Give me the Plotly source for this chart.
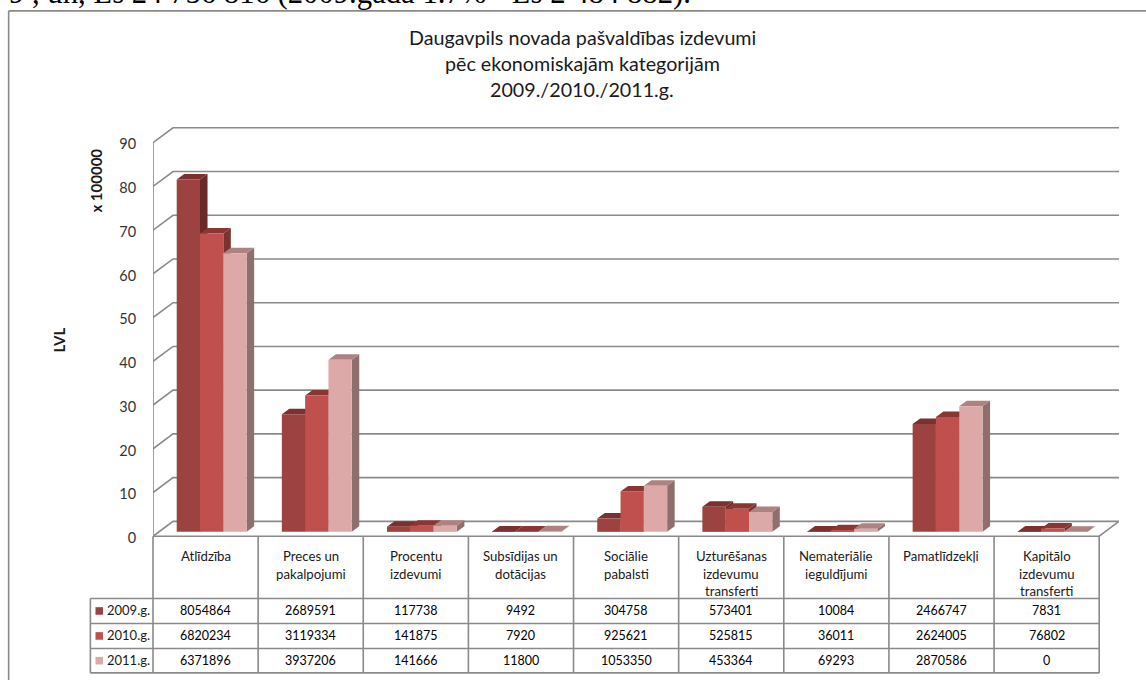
import plotly.graph_objects as go

# ---------- data ----------
categories = [
    ["Atlīdzība"],
    ["Preces un", "pakalpojumi"],
    ["Procentu", "izdevumi"],
    ["Subsīdijas un", "dotācijas"],
    ["Sociālie", "pabalsti"],
    ["Uzturēšanas", "izdevumu", "transferti"],
    ["Nemateriālie", "ieguldījumi"],
    ["Pamatlīdzekļi"],
    ["Kapitālo", "izdevumu", "transferti"],
]
series_names = ["2009.g.", "2010.g.", "2011.g."]
values_2009 = [8054864, 2689591, 117738, 9492, 304758, 573401, 10084, 2466747, 7831]
values_2010 = [6820234, 3119334, 141875, 7920, 925621, 525815, 36011, 2624005, 76802]
values_2011 = [6371896, 3937206, 141666, 11800, 1053350, 453364, 69293, 2870586, 0]
tick_values = [0, 10, 20, 30, 40, 50, 60, 70, 80, 90]
title_lines = ["Daugavpils novada pašvaldības izdevumi",
               "pēc ekonomiskajām kategorijām",
               "2009./2010./2011.g."]
top_text = "9 , un, Ls 24 756 816 (2009.gadā 1.7% - Ls 2 484 882)."

front_colors = ["#9C4240", "#C0504D", "#DDA9A8"]
side_colors = ["#692A29", "#7A3331", "#8F6F6D"]
top_colors = ["#7A3130", "#8A3634", "#AD8280"]
GRID = "#8A8A8A"
FONT = "Lato, Carlito, sans-serif"

# ---------- geometry (pixels → axis units) ----------
W, H = 1146, 680
LEFT, FLOOR_PX, RIGHT_PX, TOP_PX = 153.3, 536.7, 1119.0, 126.0
CAT_PX, UNIT_PX = 105.1, 4.378
TICK_SHIFT = 0.4  # labels sit slightly under their gridlines in the original
PLOT_BOTTOM = FLOOR_PX + TICK_SHIFT * UNIT_PX
x_max = (RIGHT_PX - LEFT) / CAT_PX
y_max = (FLOOR_PX - TOP_PX) / UNIT_PX
WALL_DX, WALL_DY = 20 / CAT_PX, 14.9 / UNIT_PX
BAR_W, BAR_GAP = 23.3 / CAT_PX, 23.7 / CAT_PX
DEPTH_X, DEPTH_Y = 7.5 / CAT_PX, 5.5 / UNIT_PX
BAR_BASE = 4.4 / UNIT_PX
n = len(categories)


def py(y):
    # y in page pixels from the top → paper coordinates of the plot area
    return (PLOT_BOTTOM - y) / (PLOT_BOTTOM - TOP_PX)


def pxp(x):
    return (x - LEFT) / (RIGHT_PX - LEFT)


fig = go.Figure()

# walls and gridlines
gx, gy = [], []
for v in tick_values:
    gx += [0, WALL_DX, x_max, None]
    gy += [v, v + WALL_DY, v + WALL_DY, None]
gx += [0, 0, None, 0, n, x_max]
gy += [0, tick_values[-1], None, 0, 0, WALL_DY]
fig.add_trace(go.Scatter(x=gx, y=gy, mode="lines", line=dict(color=GRID, width=1.6),
                         hoverinfo="skip", showlegend=False, cliponaxis=False, zorder=0))

# 3D bars
for s, vals in enumerate([values_2009, values_2010, values_2011]):
    v = [a / 100000 for a in vals]
    xl = [i + BAR_GAP + s * BAR_W for i in range(n)]
    sx, sy, tx, ty = [], [], [], []
    for x0, h in zip(xl, v):
        x1 = x0 + BAR_W
        b = BAR_BASE
        sx += [x1, x1 + DEPTH_X, x1 + DEPTH_X, x1, x1, None]
        sy += [b, b + DEPTH_Y, b + h + DEPTH_Y, b + h, b, None]
        tx += [x0, x1, x1 + DEPTH_X, x0 + DEPTH_X, x0, None]
        ty += [b + h, b + h, b + h + DEPTH_Y, b + h + DEPTH_Y, b + h, None]
    fig.add_trace(go.Scatter(x=sx, y=sy, mode="lines", fill="toself", fillcolor=side_colors[s],
                             line=dict(width=0, color=side_colors[s]), hoverinfo="skip",
                             showlegend=False, zorder=1 + 2 * s))
    fig.add_trace(go.Scatter(x=tx, y=ty, mode="lines", fill="toself", fillcolor=top_colors[s],
                             line=dict(width=0, color=top_colors[s]), hoverinfo="skip",
                             showlegend=False, zorder=1 + 2 * s))
    fig.add_trace(go.Bar(x=[a + BAR_W / 2 for a in xl], y=v, base=BAR_BASE, width=BAR_W,
                         name=series_names[s], marker=dict(color=front_colors[s], line=dict(width=0)),
                         showlegend=False, zorder=2 + 2 * s))

# ---------- text and table ----------
ann, shapes = [], []


def text(x, y, t, size=12, color="#1a1a1a", anchor="center", angle=0):
    ann.append(dict(x=pxp(x), y=py(y), xref="paper", yref="paper", text=t, showarrow=False,
                    xanchor=anchor, yanchor="middle", textangle=angle,
                    font=dict(family=FONT, size=size, color=color)))


def line(x0, y0, x1, y1, width=1.6):
    shapes.append(dict(type="line", xref="paper", yref="paper",
                       x0=pxp(x0), y0=py(y0), x1=pxp(x1), y1=py(y1),
                       line=dict(color=GRID, width=width), layer="above"))


ann.append(dict(x=pxp(7), y=py(11.5), xref="paper", yref="paper", text=top_text, showarrow=False,
                xanchor="left", yanchor="bottom",
                font=dict(family="Liberation Serif", size=30.7, color="#000000")))

for ty_, t in zip([37, 63.5, 89], title_lines):
    text(582.5, ty_, t, size=19.7)
text(59, 340, "<b>LVL</b>", size=15, angle=-90)
text(96, 181, "<b>x 100000</b>", size=15, angle=-90)

# chart frame
line(9, H + 2, 9, 10.7)
line(9, 10.7, W + 2, 10.7)

# data table
ROWS = [599, 624, 649, 673.5]
col_px = [LEFT + i * CAT_PX for i in range(n + 1)]
for i, x in enumerate(col_px):
    line(x, FLOOR_PX, x, ROWS[-1])
line(90.7, ROWS[0], 90.7, ROWS[-1])
for y in ROWS:
    line(90.7, y, col_px[-1], y)

for i, lines in enumerate(categories):
    cx = LEFT + (i + 0.5) * CAT_PX
    for k, t in enumerate(lines):
        text(cx, 556.7 + k * 17.4, t, size=13.2)
    for r, vals in enumerate([values_2009, values_2010, values_2011]):
        text(cx, (ROWS[r] + ROWS[r + 1]) / 2, str(vals[i]), size=12.5, color="#000000")

for r, name in enumerate(series_names):
    yc = (ROWS[r] + ROWS[r + 1]) / 2
    shapes.append(dict(type="rect", xref="paper", yref="paper",
                       x0=pxp(95.8), x1=pxp(103.3), y0=py(yc - 3.8), y1=py(yc + 3.8),
                       fillcolor=front_colors[r], line=dict(width=0), layer="above"))
    text(105, yc - 0.5, name, size=13, anchor="left")

fig.update_layout(
    width=W, height=H, autosize=False,
    margin=dict(l=LEFT, r=W - RIGHT_PX, t=TOP_PX, b=H - PLOT_BOTTOM, pad=0),
    paper_bgcolor="#ffffff", plot_bgcolor="rgba(0,0,0,0)",
    barmode="overlay", showlegend=False, annotations=ann, shapes=shapes,
    xaxis=dict(range=[0, x_max], showgrid=False, zeroline=False, showline=False,
               showticklabels=False, ticks="", fixedrange=True),
    yaxis=dict(range=[-TICK_SHIFT, y_max], tickvals=[t - TICK_SHIFT for t in tick_values],
               ticktext=[str(t) for t in tick_values], showgrid=False, zeroline=False,
               showline=False, ticks="outside", ticklen=13, tickcolor="rgba(0,0,0,0)",
               tickfont=dict(family=FONT, size=14.5, color="#333333"), fixedrange=True),
)

fig.write_html("out.html", config={"displayModeBar": False},
               post_script="document.body.style.margin='0';document.body.style.overflow='hidden';")
